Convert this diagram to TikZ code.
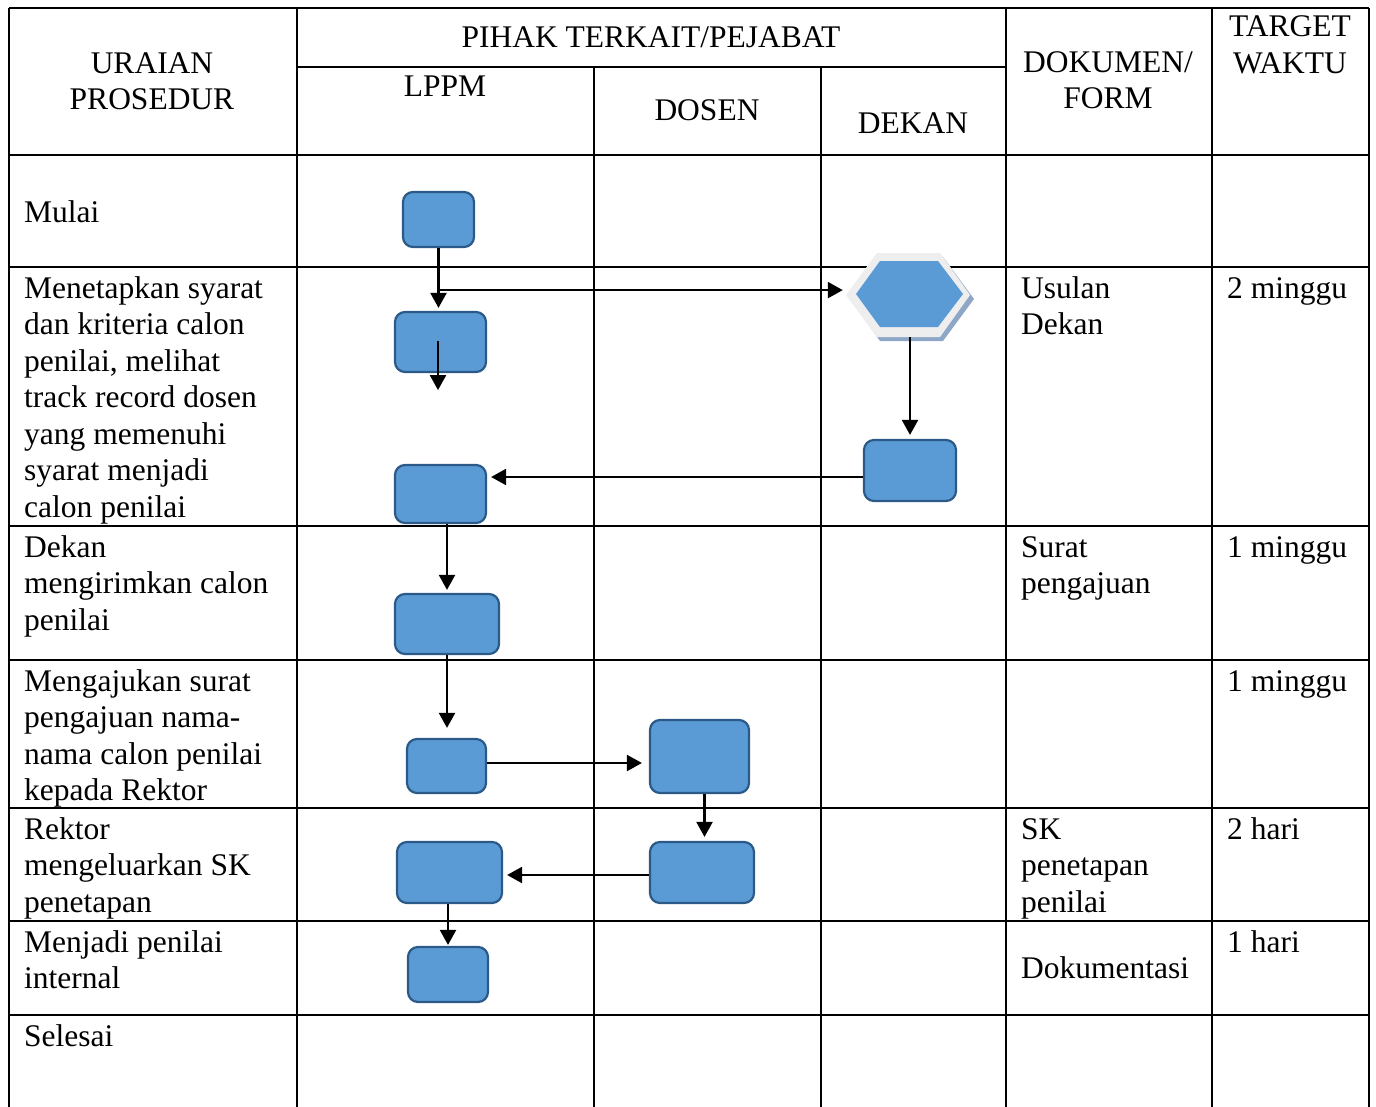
\documentclass[tikz,border=0pt]{standalone}
\usepackage{fontspec}
\setmainfont{Liberation Serif}
\usetikzlibrary{arrows.meta,calc}
\definecolor{boxfill}{HTML}{5B9BD5}
\definecolor{boxline}{HTML}{2C5A88}
\definecolor{hexrim}{HTML}{EEEEEE}
\definecolor{hexshadow}{HTML}{8EA7C6}
\begin{document}
\begin{tikzpicture}[x=1pt,y=-1pt,
  grid/.style={line width=2.4pt, black},
  proc/.style={draw=boxline, fill=boxfill, line width=2.2pt, rounded corners=10pt, inner sep=0pt},
  flow/.style={line width=2.2pt, -{Triangle[width=16pt,length=15pt]}},
  txt/.style={font=\fontsize{31.5}{36.5}\selectfont, inner sep=0pt, align=left, anchor=base west},
  head/.style={font=\fontsize{31.5}{36.5}\selectfont, inner sep=0pt, align=center, anchor=base}]
\useasboundingbox (0,0) rectangle (1376,1106);
\fill[white] (0,0) rectangle (1376,1106);
% table
\draw[grid] (9,8) -- (1369,8);
\draw[grid] (297,67) -- (1006,67);
\foreach \yy in {155,267,526,660,808,921,1015} \draw[grid] (9,\yy) -- (1369,\yy);
\foreach \xx in {9,297,1006,1212,1369} \draw[grid] (\xx,8) -- (\xx,1110);
\foreach \xx in {594,821} \draw[grid] (\xx,67) -- (\xx,1110);
% header (anchor = baseline of last line)
\node[head] (h1) at (152,109.5) {URAIAN\\PROSEDUR};
\node[head] (h2) at (651,47) {PIHAK TERKAIT/PEJABAT};
\node[head] (h3) at (445,96) {LPPM};
\node[head] (h4) at (707,120) {DOSEN};
\node[head] (h5) at (913,133) {DEKAN};
\node[head] (h6) at (1108,108.5) {DOKUMEN/\\FORM};
\node[head] (h7) at (1290,73) {TARGET\\WAKTU};
% column 1
\node[txt] (t1) at (24,222) {Mulai};
\node[txt] (t2) at (24,517) {Menetapkan syarat\\dan kriteria calon\\penilai, melihat\\track record dosen\\yang memenuhi\\syarat menjadi\\calon penilai};
\node[txt] (t3) at (24,630) {Dekan\\mengirimkan calon\\penilai};
\node[txt] (t4) at (24,800.5) {Mengajukan surat\\pengajuan nama-\\nama calon penilai\\kepada Rektor};
\node[txt] (t5) at (24,912) {Rektor\\mengeluarkan SK\\penetapan};
\node[txt] (t6) at (24,988.5) {Menjadi penilai\\internal};
\node[txt] (t7) at (24,1046) {Selesai};
% column dokumen
\node[txt] (d1t) at (1021,334.5) {Usulan\\Dekan};
\node[txt] (d2t) at (1021,593.5) {Surat\\pengajuan};
\node[txt] (d3t) at (1021,912) {SK\\penetapan\\penilai};
\node[txt] (d4t) at (1021,978) {Dokumentasi};
% column waktu
\node[txt] (w1) at (1227,298) {2 minggu};
\node[txt] (w2) at (1227,557) {1 minggu};
\node[txt] (w3) at (1227,691) {1 minggu};
\node[txt] (w4) at (1227,839) {2 hari};
\node[txt] (w5) at (1227,952) {1 hari};
% boxes
\node[proc, minimum width=71, minimum height=55] (b1) at (438.5,219.5) {};
\node[proc, minimum width=91, minimum height=60] (b2) at (440.5,342) {};
\node[proc, minimum width=92, minimum height=61] (bd) at (910,470.5) {};
\node[proc, minimum width=91, minimum height=58] (b3) at (440.5,494) {};
\node[proc, minimum width=104, minimum height=60] (b4) at (447,624) {};
\node[proc, minimum width=79, minimum height=54] (b5) at (446.5,766) {};
\node[proc, minimum width=99, minimum height=73] (d1) at (699.5,756.5) {};
\node[proc, minimum width=104, minimum height=61] (d2) at (702,872.5) {};
\node[proc, minimum width=105, minimum height=61] (b6) at (449.5,872.5) {};
\node[proc, minimum width=80, minimum height=55] (b7) at (448,974.5) {};
% hexagon
\node[minimum width=124, minimum height=84, inner sep=0pt] (hx) at (908,295) {};
\fill[hexshadow] ($(hx.center)+(-58,4)$) -- ($(hx.center)+(-28,-38)$) -- ($(hx.center)+(35,-38)$) -- ($(hx.center)+(66,4)$) -- ($(hx.center)+(35,46)$) -- ($(hx.center)+(-28,46)$) -- cycle;
\fill[hexrim] ($(hx.center)+(-62,0)$) -- ($(hx.center)+(-31,-42)$) -- ($(hx.center)+(32,-42)$) -- ($(hx.center)+(62,0)$) -- ($(hx.center)+(32,42)$) -- ($(hx.center)+(-31,42)$) -- cycle;
\fill[boxfill] ($(hx.center)+(-52,-1)$) -- ($(hx.center)+(-28,-34)$) -- ($(hx.center)+(30,-34)$) -- ($(hx.center)+(55,-1)$) -- ($(hx.center)+(30,32)$) -- ($(hx.center)+(-28,32)$) -- cycle;
% connectors
\coordinate (j1) at ($(b1.south)+(0,42)$);
\draw[flow, shorten >=3pt] (b1.south) -- (b1.south |- b2.north);
\draw[flow, shorten >=3pt] (j1) -- (j1 -| hx.west);
\draw[flow] ($(b2.center)+(-2.5,-1)$) -- ($(b2.south)+(-2.5,17)$);
\draw[flow, shorten >=4pt] (bd.north |- hx.south) -- (bd.north);
\draw[flow, shorten >=4pt] ($(bd.west)+(0,6.5)$) -- ($(b3.east |- bd.west)+(0,6.5)$);
\draw[flow, shorten >=3pt] (b3.south -| b4.north) -- (b4.north);
\draw[flow, shorten >=10pt] (b4.south) -- (b4.south |- b5.north);
\draw[flow, shorten >=7pt] ($(b5.east)+(0,-3)$) -- ($(b5.east -| d1.west)+(0,-3)$);
\draw[flow, shorten >=4pt] ($(d1.south)+(5,0)$) -- ($(d1.south |- d2.north)+(5,0)$);
\draw[flow, shorten >=4pt] ($(d2.west)+(0,2.5)$) -- ($(d2.west -| b6.east)+(0,2.5)$);
\draw[flow, shorten >=1pt] (b6.south -| b7.north) -- (b7.north);
\end{tikzpicture}
\end{document}
